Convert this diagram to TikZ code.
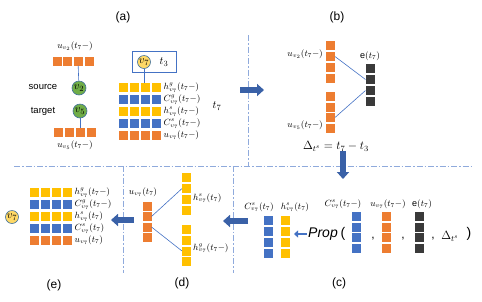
\documentclass[tikz,border=0pt]{standalone}
\usepackage{fontspec}
\setmainfont{Liberation Sans}
\usepackage{tikz}
\usetikzlibrary{positioning,arrows.meta}
\definecolor{orangeC}{HTML}{ED7D31}
\definecolor{blueC}{HTML}{4472C4}
\definecolor{yellowC}{HTML}{FFC000}
\definecolor{darkC}{HTML}{3A3A3A}
\definecolor{greenC}{HTML}{70AD47}
\definecolor{paleC}{HTML}{FFD966}
\definecolor{sepC}{HTML}{8FAADC}
\definecolor{rimC}{HTML}{41719C}

\begin{document}
\begin{tikzpicture}[
		x=1pt, y=-1pt,
		cell/.style={minimum size=9pt,inner sep=0pt,outer sep=0pt},
		lbl/.style={inner sep=0pt,font=\fontsize{9}{10}\selectfont},
		stack/.style={inner sep=0pt,align=left,font=\fontsize{9}{12}\selectfont},
		tag/.style={font=\fontsize{12}{14}\selectfont},
		vert/.style={circle,draw=rimC,line width=0.6pt,inner sep=0pt,minimum size=14pt,font=\fontsize{11}{12}\selectfont},
		link/.style={draw=blueC,line width=0.6pt},
		sep/.style={draw=sepC,line width=0.8pt,dash pattern=on 6pt off 2pt on 1.5pt off 2pt},
		bigarrow/.style={draw=blueC!85!black,line width=5.5pt,-{Triangle[length=7pt,width=12pt]}},
		smallarrow/.style={draw=blueC,line width=2.5pt,-{Triangle[length=4pt,width=7pt]}}
		]
		\useasboundingbox (0,0) rectangle (482,301);
		
		% panel separators
		\draw[sep] (248,35) -- (248,166);
		\draw[sep] (14,166) -- (472,166);
		\draw[sep] (123,166) -- (123,273);
		\draw[sep] (233,166) -- (233,273);
		
		% (a) input event
		\node[tag] (taga) at (123,17) {(a)};
		\foreach \i/\x in {1/57,2/67.5,3/78,4/89}
		\node[cell,fill=orangeC] (su\i) at (\x,61) {};
		\foreach \i/\x in {1/58.5,2/69,3/80,4/91}
		\node[cell,fill=orangeC] (sd\i) at (\x,132.5) {};
		\node[lbl] (usrc) at (75,46) {$u_{v_2}(t_7-)$};
		\node[lbl] (udst) at (75,145) {$u_{v_5}(t_7-)$};
		\node[vert,fill=greenC] (v2) at (79,88) {$v_2$};
		\node[vert,fill=greenC] (v5) at (80,111) {$v_5$};
		\node[font=\fontsize{9.5}{11}\selectfont] (src) at (43,87) {source};
		\node[font=\fontsize{9.5}{11}\selectfont] (dst) at (43,111) {target};
		\draw[link] (su3) -- (v2);
		\draw[link] (v5) -- (sd3);
		
		\node[draw=blueC,line width=0.8pt,minimum width=44pt,minimum height=21pt] (memo) at (154,62) {};
		\node[vert,fill=paleC,minimum size=13pt] (v7a) at (144,62) {$v_7$};
		\node[font=\fontsize{11}{12}\selectfont] (tlast) at (164,62) {$t_3$};
		\foreach \r/\y/\c in {1/87.5/yellowC,2/99.5/blueC,3/111.5/yellowC,4/123.5/blueC,5/135.5/orangeC}
		{\foreach \i/\x in {1/123,2/134,3/145,4/156}
			\node[cell,fill=\c] (ga\r\i) at (\x,\y) {};}
		\draw[link] (v7a) -- (v7a |- ga13.north);
		\node[stack,right=3pt of ga34] (la) {$h^g_{v_7}(t_7-)$\\ $C^g_{v_7}(t_7-)$\\ $h^s_{v_7}(t_7-)$\\ $C^s_{v_7}(t_7-)$\\ $u_{v_7}(t_7-)$};
		\node[font=\fontsize{11}{12}\selectfont] (tnow) at (217,106) {$t_7$};
		
		% (b) edge feature
		\node[tag] (tagb) at (337,17) {(b)};
		\foreach \i/\y in {1/45.5,2/56.5,3/67.5,4/78.5}
		\node[cell,fill=orangeC] (bu\i) at (330.5,\y) {};
		\foreach \i/\y in {1/96,2/107,3/117.5,4/128}
		\node[cell,fill=orangeC] (bv\i) at (330.5,\y) {};
		\foreach \i/\y in {1/68.5,2/79.5,3/90.5,4/101}
		\node[cell,fill=darkC] (be\i) at (370,\y) {};
		\draw[link] (bu2.east) -- (be2.west);
		\draw[link] (bv3.east) -- (be3.west);
		\node[lbl,anchor=east] (lbu) at (323,54) {$u_{v_2}(t_7-)$};
		\node[lbl,anchor=east] (lbv) at (323,125) {$u_{v_5}(t_7-)$};
		\node[lbl] (lbe) at (370,56) {e$(t_7)$};
		\node[font=\fontsize{11.5}{13}\selectfont] (gap) at (336,146) {$\Delta_{t^s}=t_7-t_3$};
		
		% (c) propagation
		\node[tag] (tagc) at (339,283) {(c)};
		\foreach \i/\y in {1/216,2/227,3/237.5,4/248.5}
		{\node[cell,fill=blueC] (pb\i) at (356.5,\y) {};
			\node[cell,fill=orangeC] (po\i) at (386.5,\y) {};
			\node[cell,fill=darkC] (pe\i) at (419,\y) {};}
		\foreach \i/\y in {1/220,2/231,3/242,4/253}
		{\node[cell,fill=blueC] (cb\i) at (268.5,\y) {};
			\node[cell,fill=yellowC] (cy\i) at (285.5,\y) {};}
		\node[lbl] (lcb) at (259,207) {$C^s_{v_7}(t_7)$};
		\node[lbl] (lcy) at (295,207) {$h^s_{v_7}(t_7)$};
		\node[lbl] (lpb) at (343,204) {$C^s_{v_7}(t_7-)$};
		\node[lbl] (lpo) at (388,204) {$u_{v_7}(t_7-)$};
		\node[lbl] (lpe) at (422,204) {e$(t_7)$};
		\node[font=\itshape\fontsize{14}{16}\selectfont,inner sep=1pt] (prop) at (323,234) {Prop};
		\node[font=\fontsize{14}{16}\selectfont,inner sep=1pt] (lpar) at (343,234) {(};
		\node[font=\fontsize{12}{14}\selectfont,inner sep=1pt] (c1) at (373,239) {,};
		\node[font=\fontsize{12}{14}\selectfont,inner sep=1pt] (c2) at (403,239) {,};
		\node[font=\fontsize{12}{14}\selectfont,inner sep=1pt] (c3) at (433,239) {,};
		\node[font=\fontsize{12}{14}\selectfont,inner sep=1pt] (dts) at (450,236) {$\Delta_{t^s}$};
		\node[font=\fontsize{14}{16}\selectfont,inner sep=1pt] (rpar) at (469,234) {)};
		\draw[smallarrow,shorten >=4pt] (prop.west) -- (prop.west -| cy1.east);
		
		% (d) update
		\node[tag] (tagd) at (182,283) {(d)};
		\foreach \i/\y in {1/206,2/216.5,3/227,4/237.5}
		\node[cell,fill=orangeC] (du\i) at (147,\y) {};
		\foreach \i/\y in {1/177.5,2/188.5,3/199,4/210}
		\node[cell,fill=yellowC] (dy\i) at (186.5,\y) {};
		\foreach \i/\y in {1/229,2/240,3/251,4/261.5}
		\node[cell,fill=yellowC] (dg\i) at (186.5,\y) {};
		\draw[link] (du2.east) -- (dy2.west);
		\draw[link] (du3.east) -- (dg3.west);
		\node[lbl] (ldu) at (143,192) {$u_{v_7}(t_7)$};
		\node[lbl,anchor=west] (ldy) at (193,198) {$h^s_{v_7}(t_7)$};
		\node[lbl,anchor=west] (ldg) at (193,248) {$h^g_{v_7}(t_7-)$};
		
		% (e) new memory
		\node[tag] (tage) at (54,285) {(e)};
		\node[vert,fill=paleC,minimum size=13pt] (v7b) at (12,217) {$v_7$};
		\foreach \r/\y/\c in {1/192.5/yellowC,2/204.5/blueC,3/216.5/yellowC,4/228.5/blueC,5/240.5/orangeC}
		{\foreach \i/\x in {1/34,2/45,3/56,4/67}
			\node[cell,fill=\c] (ge\r\i) at (\x,\y) {};}
		\node[stack,right=3pt of ge34] (le) {$h^g_{v_7}(t_7-)$\\ $C^g_{v_7}(t_7-)$\\ $h^s_{v_7}(t_7)$\\ $C^s_{v_7}(t_7)$\\ $u_{v_7}(t_7)$};
		
		% steps between panels
		\coordinate (ab0) at (240,90);
		\coordinate (ab1) at (264,90);
		\coordinate (bc0) at (343,151);
		\coordinate (bc1) at (343,179);
		\coordinate (cd0) at (248,221);
		\coordinate (cd1) at (223,221);
		\coordinate (de0) at (134,220);
		\coordinate (de1) at (111,220);
		\draw[bigarrow] (ab0) -- (ab1);
		\draw[bigarrow] (bc0) -- (bc1);
		\draw[bigarrow] (cd0) -- (cd1);
		\draw[bigarrow] (de0) -- (de1);
		
	\end{tikzpicture}
\end{document}
